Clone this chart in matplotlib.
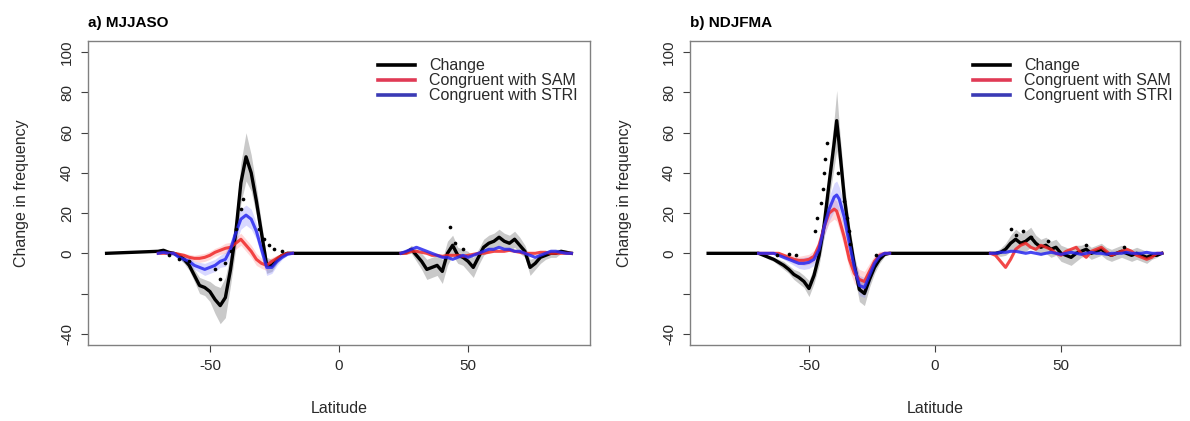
import numpy as np
import matplotlib
matplotlib.use("Agg")
import matplotlib.pyplot as plt
from matplotlib.lines import Line2D

plt.rcParams['font.family'] = ['Liberation Sans', 'DejaVu Sans']

# ---- panel a) MJJASO ----
a_lat_sh = [-70, -68, -66, -64, -62, -60, -58, -56, -54, -52, -50, -48, -46, -44,
            -42, -40, -38, -36, -34, -32, -30, -28, -26, -24, -22, -20, -18]
a_chg_sh = [1, 1.5, 0.5, 0, -1, -3, -6, -11, -16, -17, -19, -23, -26, -22,
            -8, 10, 35, 48, 40, 26, 10, -6, -6, -3, -1, 0, 0]
a_sam_sh = [0, 0, 0, 0, -0.5, -1, -2, -2.5, -2.5, -2, -1, 0.5, 1.5, 2.5,
            3, 5, 7, 4, 1, -3, -5, -6, -4, -2.5, -1, 0, 0]
a_stri_sh = [0, 0.5, 0, 0, -2, -3, -4, -6, -7, -8, -7, -6, -4, -3,
             2, 10, 17, 19, 17, 11, 2, -7, -7, -4, -2, -0.5, 0]
a_chg_sh_err = [1, 1, 1, 1, 1.5, 2, 2.5, 3, 4, 4, 5, 7, 9, 10,
                8, 8, 10, 12, 9, 7, 5, 4, 3, 2, 1, 0.5, 0]
a_sam_sh_err = [0, 0, 0.5, 0.5, 1, 1, 1.5, 1.5, 2, 2, 2, 2, 2, 2.5,
                2.5, 3, 3, 3, 3, 3, 2.5, 2.5, 2, 1.5, 1, 0.5, 0]
a_stri_sh_err = [0, 0.5, 0.5, 1, 1, 1.5, 2, 2, 2.5, 3, 3, 3, 3, 3.5,
                 4, 5, 5, 5, 5, 4, 4, 4, 3, 2, 1, 0.5, 0]

a_lat_nh = [24, 26, 28, 30, 32, 34, 36, 38, 40, 42, 44, 46, 48, 50, 52, 54, 56,
            58, 60, 62, 64, 66, 68, 70, 72, 74, 76, 78, 80, 82, 84, 86, 88, 90]
a_chg_nh = [0, 0.5, 2, -1, -4, -8, -7, -6, -9, 0, 4, -1, -2, -4, -7, -2, 3,
            5, 6, 8, 6, 5, 7, 4, 1, -7, -5, -2, -1, 0, 0, 1, 0.5, 0]
a_sam_nh = [0, 0, 1, 1, 0.5, 0, -1, -1, -1.5, -1, -1, -1, -1.5, -1, -0.5, 0, 0,
            0.5, 1, 1, 1, 1.5, 1, 0.5, 0, 0, 0, 0.5, 0.5, 0, 0, 0, 0, 0]
a_stri_nh = [0, 1, 2, 3, 2, 1, 0, -1, -2, -2, -3, -2, -1, -2, -1, 0, 1,
             2, 2, 3, 2, 2, 1, 1, 0, -1, -2, -1, 0, 1, 1, 0.5, 0, 0]
a_chg_nh_err = [0, 1, 2, 3, 4, 5, 5, 5, 6, 6, 5, 4, 4, 5, 5, 4, 4,
                4, 4, 4, 4, 4, 4, 4, 3, 4, 3, 3, 2, 2, 2, 1, 1, 0]

a_dot_lat = [-66, -62, -58, -48, -46, -44, -42, -40, -38, -37, -31, -29, -27, -25, -22, 43, 45, 48]
a_dot_val = [-1, -3, -4, -8, -13, -5, 1, 12, 22, 27, 12, 7, 4, 2, 1, 13, 5, 2]

# ---- panel b) NDJFMA ----
b_lat_sh = [-70, -68, -66, -64, -62, -60, -58, -56, -54, -52, -50, -48, -46, -44,
            -42, -40, -39, -38, -36, -34, -32, -30, -28, -26, -24, -22, -20, -18]
b_chg_sh = [0, -1, -2, -3, -4.5, -6, -8, -10.5, -12, -14, -17.5, -11, -1, 14,
            35, 55, 66, 54, 28, 9.5, -6, -18, -20, -13, -7, -3, -0.5, 0]
b_sam_sh = [0, 0, 0, 0, 0, -1, -2, -3, -3.5, -3.5, -3, -1.5, 4, 13,
            20, 22, 21, 17, 8, -3, -10, -13, -14, -9, -4, -1, 0, 0]
b_stri_sh = [0, 0, 0, 0, -1, -2, -3, -4, -5, -5, -4.5, -3, 2, 13,
             22, 28, 29, 27, 18, 5, -7, -16, -17, -11, -5, -1.5, 0, 0]
b_chg_sh_err = [0, 0.5, 1, 1, 1.5, 2, 2, 2.5, 3, 3, 4, 4, 5, 6,
                8, 12, 15, 10, 7, 5, 5, 6, 6, 4, 3, 2, 1, 0]
b_sam_sh_err = [0, 0, 0, 0, 0.5, 1, 1.5, 2, 2, 2.5, 2.5, 3, 3, 4,
                5, 5, 5, 5, 5, 5, 5, 5, 5, 4, 3, 2, 1, 0]
b_stri_sh_err = [0, 0, 0, 0, 0.5, 1, 1.5, 2, 2.5, 3, 3, 3, 4, 5,
                 6, 7, 7, 6, 6, 5, 5, 5, 5, 4, 3, 2, 1, 0]

b_lat_nh = [22, 24, 26, 28, 30, 32, 34, 36, 38, 40, 42, 44, 46, 48, 50, 52, 54, 56,
            58, 60, 62, 64, 66, 68, 70, 72, 74, 76, 78, 80, 82, 84, 86, 88, 90]
b_chg_nh = [0, 0, 0.5, 2, 5, 7, 5, 6, 8, 5, 3, 4, 2, 3, 0, -1, -2, 0,
            1, 2, 0, 1, 2, 0, -1, 0, 1, 0, -1, 0, -1, -2, -1, -1, 0]
b_sam_nh = [0, -1, -4, -7, -3, 2, 4, 5, 3, 2, 4, 3, 2, 0, -1, 1, 2, 3,
            0, -2, 1, 2, 3, 1, -1, 0, 1, 2, 1, -1, -2, -3, -2, 0, 0]
b_stri_nh = [0, 0, 0.5, 0.5, 1, 1, 0.5, 0, 0.5, 0, -0.5, 0, 0.5, 0, -0.5, 0, 0.5, 0,
             -0.5, 0, 0.5, 0, 0, -0.5, 0, 0, 0, 0.5, 0, 0, 0, 0.5, 0, 0, 0]
b_chg_nh_err = [0, 1, 2, 3, 4, 5, 5, 5, 5, 4, 4, 4, 4, 4, 4, 4, 4, 4,
                3, 3, 3, 3, 3, 3, 3, 3, 3, 3, 3, 3, 3, 3, 2, 1, 0]

b_dot_lat = [-62.5, -58, -55, -47.6, -47, -45.3, -44.5, -44, -43.7, -43,
             -38.3, -36, -34.8, -34, -33.6, -23.4, 30, 32, 35, 38, 45, 60, 75]
b_dot_val = [-1, -0.5, -1, 11, 17.5, 25, 32, 40, 47, 55,
             40, 26, 17.5, 11, 4.5, -1, 12, 9, 11, 8, 6, 4, 3]

panels = [
    dict(title="a) MJJASO", pos=[88, 590],
         lat_sh=a_lat_sh, chg_sh=a_chg_sh, sam_sh=a_sam_sh, stri_sh=a_stri_sh,
         chg_sh_err=a_chg_sh_err, sam_sh_err=a_sam_sh_err, stri_sh_err=a_stri_sh_err,
         lat_nh=a_lat_nh, chg_nh=a_chg_nh, sam_nh=a_sam_nh, stri_nh=a_stri_nh,
         chg_nh_err=a_chg_nh_err, dot_lat=a_dot_lat, dot_val=a_dot_val),
    dict(title="b) NDJFMA", pos=[690, 1180],
         lat_sh=b_lat_sh, chg_sh=b_chg_sh, sam_sh=b_sam_sh, stri_sh=b_stri_sh,
         chg_sh_err=b_chg_sh_err, sam_sh_err=b_sam_sh_err, stri_sh_err=b_stri_sh_err,
         lat_nh=b_lat_nh, chg_nh=b_chg_nh, sam_nh=b_sam_nh, stri_nh=b_stri_nh,
         chg_nh_err=b_chg_nh_err, dot_lat=b_dot_lat, dot_val=b_dot_val),
]

W, H = 1190, 421
fig = plt.figure(figsize=(W / 100, H / 100), dpi=100)

RED = '#f02828'
BLUE = '#2828f0'
FRAME = '#808080'
TXT = '#2a2a2a'

for p in panels:
    x0, x1 = p['pos']
    ax = fig.add_axes([x0 / W, 1 - 345 / H, (x1 - x0) / W, (345 - 41) / H])

    lat_sh = np.array(p['lat_sh'])
    lat_nh = np.array(p['lat_nh'])

    # uncertainty bands
    for lat, v, e in [(lat_sh, p['chg_sh'], p['chg_sh_err']),
                      (lat_nh, p['chg_nh'], p['chg_nh_err'])]:
        v, e = np.array(v), np.array(e)
        ax.fill_between(lat, v - e, v + e, color='#888888', alpha=0.45, lw=0)
    for v, e, c in [(p['sam_sh'], p['sam_sh_err'], '#ff8080'),
                    (p['stri_sh'], p['stri_sh_err'], '#8080ff')]:
        v, e = np.array(v), np.array(e)
        ax.fill_between(lat_sh, v - e, v + e, color=c, alpha=0.3, lw=0)

    # change line over the whole globe
    lat_all = np.concatenate([[-90], lat_sh, lat_nh])
    chg_all = np.concatenate([[0], p['chg_sh'], p['chg_nh']])
    ax.plot(lat_all, chg_all, color='black', lw=2.4, solid_joinstyle='round')

    for lat, key in [(lat_sh, '_sh'), (lat_nh, '_nh')]:
        ax.plot(lat, p['sam' + key], color=RED, lw=2.2, alpha=0.85)
        ax.plot(lat, p['stri' + key], color=BLUE, lw=2.2, alpha=0.85)

    ax.scatter(p['dot_lat'], p['dot_val'], s=7, color='black', zorder=5, lw=0)

    ax.set_xlim(-97.2, 97.2)
    ax.set_ylim(-45.6, 105.6)
    ax.set_xticks([-50, 0, 50])
    ax.set_xticklabels(['-50', '0', '50'])
    ax.set_yticks([-40, -20, 0, 20, 40, 60, 80, 100])
    ax.set_yticklabels(['-40', '', '0', '20', '40', '60', '80', '100'],
                       rotation=90, va='center')
    ax.tick_params(labelsize=11, length=5, color='#404040', labelcolor=TXT, pad=5)
    for s in ax.spines.values():
        s.set_color(FRAME)
        s.set_linewidth(1.0)

    ax.set_xlabel("Latitude", fontsize=11.5, color=TXT)
    ax.xaxis.set_label_coords(0.5, -0.185)
    ax.set_ylabel("Change in frequency", fontsize=11.5, color=TXT)
    ax.yaxis.set_label_coords(-0.118, 0.5)
    ax.text(0, 1.035, p['title'], transform=ax.transAxes, fontsize=11,
            fontweight='bold', ha='left', va='bottom')

    handles = [Line2D([], [], color='black', lw=2.6),
               Line2D([], [], color='#e03a55', lw=2.6),
               Line2D([], [], color='#3a3ab5', lw=2.6)]
    ax.legend(handles, ['Change', 'Congruent with SAM', 'Congruent with STRI'],
              loc='upper left', bbox_to_anchor=(0.555, 0.98), frameon=False,
              fontsize=11.5, handlelength=2.3, handletextpad=0.9,
              labelspacing=0.0, borderpad=0.2, labelcolor=TXT)

fig.savefig("out.png", dpi=100)
